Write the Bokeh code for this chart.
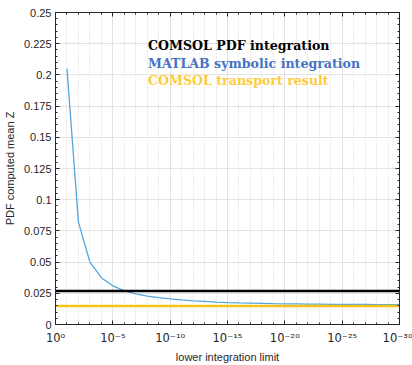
from bokeh.plotting import figure
from bokeh.models import FixedTicker, LogAxis, LinearAxis, Range1d, Label, ColumnDataSource
from bokeh.embed import file_html
from bokeh.resources import INLINE

# ---- data ----
limit_exp = [1, 2, 3, 4, 5, 6, 7, 8, 9, 10, 11, 12, 13, 14, 15, 16, 17, 18, 19, 20,
             21, 22, 23, 24, 25, 26, 27, 28, 29, 30]
matlab_z = [0.205, 0.082, 0.050, 0.0375, 0.031, 0.027, 0.0245, 0.0228, 0.0215, 0.0205,
            0.0197, 0.0190, 0.0185, 0.0180, 0.0176, 0.0173, 0.0171, 0.0169, 0.0167, 0.0166,
            0.0165, 0.0164, 0.0163, 0.0162, 0.0162, 0.0161, 0.0161, 0.0160, 0.0160, 0.0160]
comsol_pdf_z = 0.0268
comsol_transport_z = 0.0149
x_span = [1.0, 1e-30]

x_tick_vals = [1.0, 1e-5, 1e-10, 1e-15, 1e-20, 1e-25, 1e-30]
x_tick_labels = ["10⁰", "10⁻⁵", "10⁻¹⁰", "10⁻¹⁵", "10⁻²⁰", "10⁻²⁵", "10⁻³⁰"]
x_minor_vals = [10.0 ** -k for k in range(31)]
y_tick_vals = [0, 0.025, 0.05, 0.075, 0.1, 0.125, 0.15, 0.175, 0.2, 0.225, 0.25]
y_tick_labels = ["0", "0.025", "0.05", "0.075", "0.1", "0.125", "0.15", "0.175", "0.2", "0.225", "0.25"]
y_minor_vals = [i * 0.005 for i in range(51)]

legend_texts = ["COMSOL PDF integration", "MATLAB symbolic integration", "COMSOL transport result"]
legend_colors = ["#000000", "#4472C4", "#FFCB3D"]

AX = "#262626"
FONT = "Liberation Sans"

p = figure(width=412, height=365, x_axis_type="log",
           x_range=Range1d(1, 1e-30), y_range=Range1d(0, 0.25),
           output_backend="svg", toolbar_location=None,
           min_border_left=53, min_border_right=13, min_border_top=12, min_border_bottom=41)
p.background_fill_color = "white"
p.border_fill_color = "white"
p.outline_line_color = AX
p.outline_line_width = 1

xt = FixedTicker(ticks=x_tick_vals, minor_ticks=x_minor_vals)
yt = FixedTicker(ticks=y_tick_vals, minor_ticks=y_minor_vals)

xa = p.xaxis[0]
xa.ticker = xt
xa.major_label_overrides = {v: l for v, l in zip(x_tick_vals, x_tick_labels)}
xa.axis_label = "lower integration limit"
ya = p.yaxis[0]
ya.ticker = yt
ya.major_label_overrides = {v: l for v, l in zip(y_tick_vals, y_tick_labels)}
ya.axis_label = "PDF computed mean Z"

for ax in (xa, ya):
    ax.axis_line_color = AX
    ax.major_tick_line_color = AX
    ax.minor_tick_line_color = AX
    ax.major_tick_in = 4
    ax.major_tick_out = 0
    ax.minor_tick_in = 2
    ax.minor_tick_out = 0
    ax.major_label_text_font = FONT
    ax.major_label_text_font_size = "11px"
    ax.major_label_text_color = AX
    ax.axis_label_text_font = FONT
    ax.axis_label_text_font_size = "11px"
    ax.axis_label_text_font_style = "normal"
    ax.axis_label_text_color = AX
xa.major_label_text_font = "DejaVu Sans"
xa.major_label_text_font_size = "11.5px"
xa.major_label_standoff = 6
xa.axis_label_standoff = 3
ya.major_label_standoff = 4
ya.axis_label_standoff = 5

top = LogAxis(ticker=xt, major_label_text_font_size="0px", major_tick_in=4, major_tick_out=0,
              minor_tick_in=2, minor_tick_out=0, axis_line_color=AX,
              major_tick_line_color=AX, minor_tick_line_color=AX, major_label_standoff=0)
top.major_label_overrides = {v: "" for v in x_tick_vals}
right = LinearAxis(ticker=yt, major_label_text_font_size="0px", major_tick_in=4, major_tick_out=0,
                   minor_tick_in=2, minor_tick_out=0, axis_line_color=AX,
                   major_tick_line_color=AX, minor_tick_line_color=AX, major_label_standoff=0)
right.major_label_overrides = {v: "" for v in y_tick_vals}
p.add_layout(top, "above")
p.add_layout(right, "right")

p.xgrid.grid_line_color = "#e3e3e3"
p.xgrid.minor_grid_line_color = "#d4d4d4"
p.xgrid.minor_grid_line_dash = "1 2"
p.ygrid.grid_line_color = "#e3e3e3"
p.ygrid.minor_grid_line_color = None

src = ColumnDataSource(dict(x=[10.0 ** -e for e in limit_exp], y=matlab_z))
p.line("x", "y", source=src, line_color="#52A6DD", line_width=1.3)
p.line(x_span, [comsol_pdf_z, comsol_pdf_z], line_color="#000000", line_width=2.5)
p.line(x_span, [comsol_transport_z, comsol_transport_z], line_color="#F5C21B", line_width=2.5)

leg_x = 10 ** -8.07
leg_y = [0.2235, 0.2095, 0.1955]
for t, c, yy in zip(legend_texts, legend_colors, leg_y):
    p.add_layout(Label(x=leg_x, y=yy, text=t, text_color=c, text_font="DejaVu Serif",
                       text_font_style="bold", text_font_size="12.6px",
                       text_baseline="middle", text_align="left"))

open("out.html", "w").write(file_html(p, INLINE))
